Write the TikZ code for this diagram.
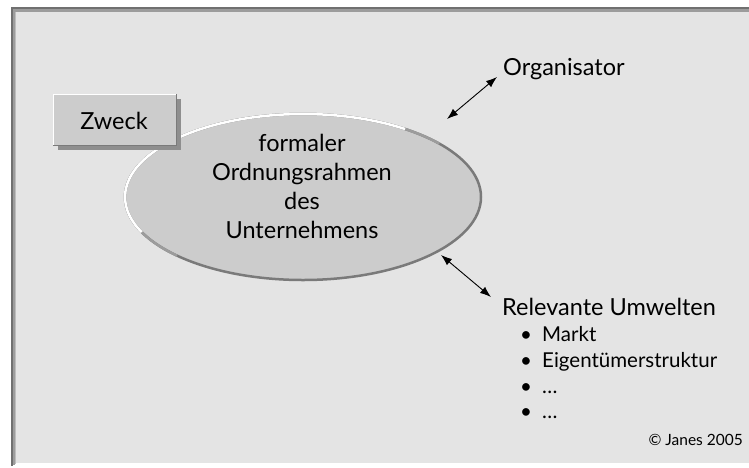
\documentclass[tikz,border=0pt]{standalone}
\usepackage{fontspec}
\setmainfont{Lato}
\usetikzlibrary{arrows.meta, shapes.geometric, positioning}
\definecolor{panelgrau}{HTML}{E4E4E4}
\definecolor{randdunkel}{HTML}{707070}
\definecolor{randmittel}{HTML}{9C9C9C}
\definecolor{randhell}{HTML}{BDBDBD}
\definecolor{flaechengrau}{HTML}{CCCCCC}
\definecolor{schattengrau}{HTML}{8E8E8E}
\definecolor{kantengrau}{HTML}{7A7A7A}

\begin{document}
\begin{tikzpicture}[x = 1pt, y = -1pt, font = \fontsize{23.5}{29}\selectfont]
\tikzstyle{Beschriftung}=[
inner sep = 0pt,
anchor = base west]
\tikzstyle{Doppelpfeil}=[
{Latex[length = 11pt, width = 8pt]}-{Latex[length = 11pt, width = 8pt]},
line width = 0.9pt]
\useasboundingbox (0,0) rectangle (749,467);
\fill[panelgrau] (11,7) rectangle (749,463);
\fill[randdunkel] (11,7) rectangle (749,9);
\fill[randmittel] (13,9) rectangle (749,12);
\fill[randdunkel] (11,7) rectangle (13,466);
\fill[randmittel] (13,9) rectangle (15,465);
\fill[randhell] (15,12) rectangle (16,464);
\node[ellipse, minimum width = 356pt, minimum height = 166pt, inner sep = 0pt,
  fill = flaechengrau, draw = kantengrau, line width = 2.5pt] (rahmen) at (303,197) {};
\draw[randmittel, line width = 2.5pt] (rahmen.center) ++(-40:178 and 83)
  arc[start angle = -40, end angle = -225, x radius = 178, y radius = 83];
\draw[white, line width = 2.5pt] (rahmen.center) ++(-55:178 and 83)
  arc[start angle = -55, end angle = -205, x radius = 178, y radius = 83];
\node[align = center, inner sep = 0pt, anchor = base] (rahmentext) at (302,238)
  {formaler\\Ordnungsrahmen\\des\\Unternehmens};
\fill[schattengrau] (58,99) rectangle (181,150);
\node[minimum width = 123pt, minimum height = 51pt, inner sep = 0pt, fill = flaechengrau] (zweck) at (114.5,119.5) {};
\draw[white] (zweck.south west) -- (zweck.north west) -- (zweck.north east);
\draw[kantengrau] (zweck.north east) -- (zweck.south east) -- (zweck.south west);
\node[Beschriftung, anchor = base] (zwecktext) at (114,129) {Zweck};
\node[Beschriftung] (orga) at (503,75) {Organisator};
\node[Beschriftung] (umwelt) at (502,315) {Relevante Umwelten};
\node[Beschriftung, align = left, font = \fontsize{20.5}{25.7}\selectfont] (liste) at (520,418.8)
  {\makebox[22pt][l]{•}Markt\\ \makebox[22pt][l]{•}Eigentümerstruktur\\
   \makebox[22pt][l]{•}…\\ \makebox[22pt][l]{•}…};
\node[inner sep = 0pt, anchor = base east, font = \fontsize{15.5}{19}\selectfont] (copy) at (743,445) {© Janes 2005};
\coordinate (o1) at (447,119);
\coordinate (o2) at (497,77);
\coordinate (u1) at (441,255);
\coordinate (u2) at (491,297);
\draw[Doppelpfeil] (o1) -- (o2);
\draw[Doppelpfeil] (u1) -- (u2);
\end{tikzpicture}
\end{document}
